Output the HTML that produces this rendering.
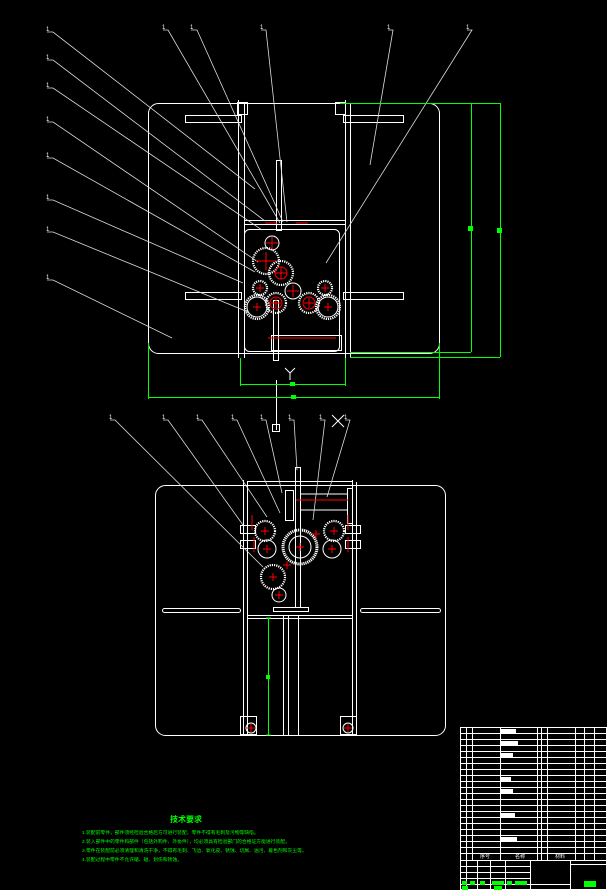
<!DOCTYPE html>
<html><head><meta charset="utf-8"><style>
html,body{margin:0;padding:0;background:#000;width:607px;height:890px;overflow:hidden}
svg{display:block}
text{font-family:"Liberation Sans","Noto Sans CJK SC",sans-serif}
</style></head><body>
<svg width="607" height="890" viewBox="0 0 607 890" xmlns="http://www.w3.org/2000/svg">
<g fill="none" stroke="#fff" stroke-width="1">
<!-- TOP VIEW -->
<rect x="148.5" y="103.5" width="291" height="250" rx="10"/>
<line x1="238.5" y1="100" x2="238.5" y2="358"/><line x1="244.5" y1="103" x2="244.5" y2="358"/>
<line x1="345.5" y1="100" x2="345.5" y2="358"/><line x1="350.5" y1="103" x2="350.5" y2="358"/>
<rect x="185.5" y="115.5" width="56" height="7"/><rect x="343.5" y="115.5" width="60" height="7"/>
<rect x="185.5" y="292.5" width="56" height="7"/><rect x="343.5" y="292.5" width="60" height="7"/>
<rect x="237.5" y="102.5" width="10" height="12"/><rect x="335.5" y="102.5" width="10" height="12"/>
<line x1="244" y1="220.5" x2="345" y2="220.5"/><line x1="244" y1="224.5" x2="345" y2="224.5"/>
<rect x="244.5" y="229.5" width="95" height="122" rx="5"/>
<rect x="276.5" y="160.5" width="5" height="70"/>
<rect x="271.5" y="335.5" width="70" height="15"/>
<rect x="273.5" y="300.5" width="5" height="60"/>
<line x1="285" y1="368" x2="290" y2="373"/><line x1="295" y1="368" x2="290" y2="373"/><line x1="290" y1="373" x2="290" y2="380"/>
<line x1="276.5" y1="380" x2="276.5" y2="430"/>
<rect x="272.5" y="424.5" width="7" height="7"/>
<line x1="332" y1="415" x2="344" y2="427"/><line x1="344" y1="415" x2="332" y2="427"/>
<g stroke-dasharray="1.2 1" stroke-width="2.2">
<circle cx="266" cy="261" r="13"/><circle cx="281" cy="273" r="12"/><circle cx="257" cy="307" r="12"/><circle cx="328" cy="307" r="12"/>
<circle cx="276" cy="303" r="10"/><circle cx="309" cy="303" r="10"/><circle cx="260" cy="288" r="7"/><circle cx="325" cy="288" r="7"/>
</g>
<circle cx="272" cy="243" r="7"/><circle cx="293" cy="291" r="8"/>
<circle cx="257" cy="307" r="10"/><circle cx="328" cy="307" r="10"/>
<!-- BOTTOM VIEW -->
<rect x="155.5" y="485.5" width="290" height="250" rx="10"/>
<line x1="243.5" y1="480" x2="243.5" y2="735"/><line x1="247.5" y1="482" x2="247.5" y2="735"/>
<line x1="352.5" y1="480" x2="352.5" y2="735"/><line x1="356.5" y1="482" x2="356.5" y2="735"/>
<line x1="247" y1="481.5" x2="352" y2="481.5"/>
<rect x="162.5" y="608.5" width="78" height="4" rx="2"/><rect x="360.5" y="608.5" width="80" height="4" rx="2"/>
<line x1="247" y1="615.5" x2="352" y2="615.5"/><line x1="247" y1="618.5" x2="352" y2="618.5"/>
<line x1="283.5" y1="615" x2="283.5" y2="735"/><line x1="288.5" y1="615" x2="288.5" y2="735"/><line x1="298.5" y1="615" x2="298.5" y2="735"/>
<rect x="273.5" y="607.5" width="35" height="4"/>
<rect x="295.5" y="467.5" width="5" height="140"/>
<rect x="285.5" y="490.5" width="8" height="30"/>
<rect x="347.5" y="488.5" width="5" height="35"/>
<line x1="300" y1="494" x2="348" y2="494"/><line x1="300" y1="510" x2="348" y2="510"/>
<rect x="240.5" y="525.5" width="15" height="8"/><rect x="240.5" y="540.5" width="15" height="8"/>
<rect x="345.5" y="525.5" width="15" height="8"/><rect x="345.5" y="540.5" width="15" height="8"/>
<circle cx="300" cy="547" r="17" stroke-width="3" stroke-dasharray="1.2 0.8"/><circle cx="300" cy="547" r="11"/>
<g stroke-dasharray="1.2 1" stroke-width="2.2">
<circle cx="265" cy="531" r="10"/><circle cx="334" cy="531" r="10"/><circle cx="273" cy="577" r="12"/>
</g>
<circle cx="267" cy="549" r="9"/><circle cx="332" cy="549" r="9"/><circle cx="279" cy="595" r="7"/>
<rect x="240.5" y="716.5" width="16" height="18"/><rect x="340.5" y="716.5" width="16" height="18"/>
<circle cx="251" cy="728" r="5"/><circle cx="348" cy="728" r="5"/>
</g>
<!-- leaders -->
<g stroke="#ddd" stroke-width="0.8" fill="none">
<path d="M47 32H53L255 189"/><path d="M163 30H168L280 223"/><path d="M191 30H197L283 222"/><path d="M261 30H266L287 222"/>
<path d="M388 30H393L370 165"/><path d="M467 30H472L326 263"/>
<path d="M47 60H53L265 221"/><path d="M47 88H53L262 230"/><path d="M47 122H53L258 262"/><path d="M47 158H53L255 272"/>
<path d="M47 200H53L243 283"/><path d="M47 232H53L248 312"/><path d="M47 280H53L172 338"/>
<path d="M110 420H115L263 567"/><path d="M163 420H168L243 525"/><path d="M197 420H202L267 517"/><path d="M232 420H237L280 513"/>
<path d="M261 420H266L282 493"/><path d="M289 420H294L297 470"/><path d="M320 420H325L313 520"/><path d="M345 420H350L327 497"/>
</g>
<g fill="#fff" font-size="6">
<text x="46" y="31">1</text><text x="162" y="29">1</text><text x="190" y="29">1</text><text x="260" y="29">1</text><text x="387" y="29">1</text><text x="466" y="29">1</text>
<text x="46" y="59">1</text><text x="46" y="87">1</text><text x="46" y="121">1</text><text x="46" y="157">1</text><text x="46" y="199">1</text><text x="46" y="231">1</text><text x="46" y="279">1</text>
<text x="109" y="419">1</text><text x="162" y="419">1</text><text x="196" y="419">1</text><text x="231" y="419">1</text><text x="260" y="419">1</text><text x="288" y="419">1</text><text x="319" y="419">1</text><text x="344" y="419">1</text>
</g>
<!-- red centers -->
<g stroke="#f00" stroke-width="1">
<path d="M266 252v18M256 261h20"/><path d="M272 237v12M266 243h12"/><path d="M281 267v12M275 273h12"/><path d="M293 285v12M287 291h12"/>
<path d="M260 284v8M256 288h8"/><path d="M325 284v8M321 288h8"/><path d="M257 303v8M253 307h8"/><path d="M328 303v8M324 307h8"/>
<path d="M276 298v10M271 303h10"/><path d="M309 298v10M304 303h10"/>
<circle cx="281" cy="273" r="6" fill="none"/><circle cx="276" cy="303" r="6" fill="none"/><circle cx="309" cy="303" r="6" fill="none"/>
<path d="M268 338h68"/><path d="M265 223h12M296 223h12"/>
<path d="M296 500h52"/>
<path d="M265 527v8M261 531h8"/><path d="M267 545v8M263 549h8"/><path d="M300 543v8M296 547h8"/><path d="M316 530v8M312 534h8"/>
<path d="M334 527v8M330 531h8"/><path d="M332 545v8M328 549h8"/><path d="M287 561v8M283 565h8"/><path d="M273 573v8M269 577h8"/><path d="M279 591v8M275 595h8"/>
<path d="M251 724v8M247 728h8"/><path d="M348 724v8M344 728h8"/>
<path d="M252 515v15M254 537v15M348 515v15M348 537v15"/>
</g>
<!-- green dims -->
<g stroke="#0f0" stroke-width="1" fill="none">
<path d="M340 103.5H500M350 352.5H471M350 357.5H500M471.5 103V352M500.5 103V357"/>
<path d="M240.5 358V386M345.5 358V386M240 384.5H345"/>
<path d="M148.5 343V399M439.5 343V399M148 397.5H440"/>
<path d="M268.5 618V735M266 618h5M266 735h5"/>
</g>
<g fill="#0f0"><rect x="468" y="226" width="5" height="5"/><rect x="497" y="228" width="5" height="5"/><rect x="290" y="382" width="5" height="4"/><rect x="291" y="395" width="5" height="4"/><rect x="266" y="675" width="4" height="4"/></g>
<!-- tech requirements -->
<g fill="#0f0">
<text x="170" y="822" font-size="8" font-weight="bold" font-family="Noto Sans CJK SC">技术要求</text>
<text x="82" y="834" font-size="4.8" font-family="Noto Sans CJK SC">1.装配前零件，部件须经检验合格后方可进行装配，零件不得有毛刺及污物等缺陷。</text>
<text x="82" y="843" font-size="4.8" font-family="Noto Sans CJK SC">2.装入部件中的零件和部件（包括外购件、外协件），均必须具有检验部门的合格证方能进行装配。</text>
<text x="82" y="852" font-size="4.8" font-family="Noto Sans CJK SC">3.零件在装配前必须清理和清洗干净，不得有毛刺、飞边、氧化皮、锈蚀、切屑、油污、着色剂和灰尘等。</text>
<text x="82" y="861" font-size="4.8" font-family="Noto Sans CJK SC">4.装配过程中零件不允许磕、碰、划伤和锈蚀。</text>
</g>
<!-- title block table -->
<g stroke="#fff" stroke-width="1" fill="none">
<rect x="460.5" y="727.5" width="146" height="162"/>
<path d="M460 733.5H607M460 739.5H607M460 745.5H607M460 751.5H607M460 757.5H607M460 763.5H607M460 769.5H607M460 775.5H607M460 781.5H607M460 787.5H607M460 793.5H607M460 799.5H607M460 805.5H607M460 811.5H607M460 817.5H607M460 823.5H607M460 829.5H607M460 835.5H607M460 841.5H607M460 847.5H607M460 853.5H607"/>
<path d="M460 860.5H607M460 866.5H530M460 872.5H530M460 878.5H530M460 884.5H530M530 884.5H570M570 864.5H607"/>
<path d="M466.5 727V860M472.5 727V860M500.5 727V860M537.5 727V860M541.5 727V860M547.5 727V860M575.5 727V860M584.5 727V860M594.5 727V860"/>
<path d="M466.5 860V890M477.5 860V890M490.5 860V890M505.5 860V890M530.5 860V890M570.5 860V890"/>
</g>
<g fill="#fff"><rect x="501" y="729" width="15" height="4"/><rect x="501" y="741" width="17" height="4"/><rect x="501" y="753" width="12" height="4"/><rect x="501" y="777" width="10" height="4"/><rect x="501" y="789" width="12" height="4"/><rect x="501" y="813" width="14" height="4"/><rect x="501" y="837" width="16" height="4"/>
<text x="480" y="858" font-size="5" font-family="Noto Sans CJK SC">序号</text><text x="515" y="858" font-size="5" font-family="Noto Sans CJK SC">名称</text><text x="555" y="858" font-size="5" font-family="Noto Sans CJK SC">材料</text></g>
<g fill="#0f0"><rect x="462" y="881" width="5" height="4"/><rect x="470" y="881" width="5" height="4"/><rect x="480" y="881" width="5" height="4"/><rect x="492" y="881" width="12" height="4"/><rect x="507" y="881" width="5" height="4"/><rect x="515" y="881" width="12" height="4"/><rect x="462" y="886" width="6" height="4"/><rect x="494" y="886" width="8" height="4"/><rect x="584" y="881" width="12" height="6"/></g>
</svg>
</body></html>
